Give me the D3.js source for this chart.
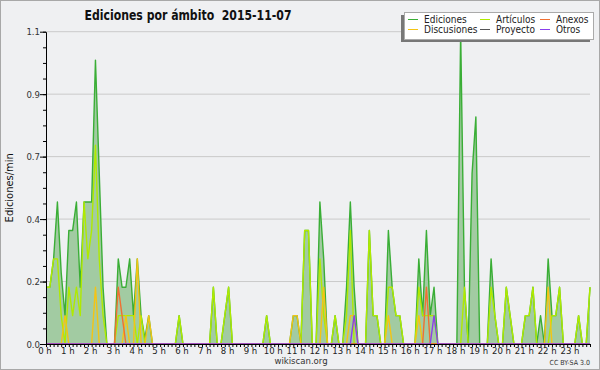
<!DOCTYPE html>
<html>
<head>
<meta charset="utf-8">
<script src="https://cdn.jsdelivr.net/npm/d3@7"></script>
<style>
  body { margin: 0; background: #eff0f2; }
  svg { display: block; font-family: "DejaVu Sans Condensed", "DejaVu Sans", sans-serif; }
</style>
</head>
<body>
<div id="chart-area"></div>
<script>
// one value every 10 minutes, 6 per hour (rows = hours 0..23)
var ediciones = [
  0.2, 0.2, 0.3, 0.5, 0.25, 0.1,
  0.4, 0.4, 0.5, 0.2, 0.5, 0.5,
  0.5, 1.0, 0.6, 0.2, 0, 0,
  0, 0.3, 0.2, 0.2, 0.3, 0.1,
  0.3, 0.1, 0.02, 0.1, 0, 0,
  0, 0, 0, 0, 0, 0.1,
  0, 0, 0, 0, 0, 0,
  0, 0, 0.2, 0, 0, 0.1,
  0.2, 0, 0, 0, 0, 0,
  0, 0, 0, 0, 0.1, 0,
  0, 0, 0, 0, 0, 0.1,
  0.1, 0, 0.4, 0.4, 0, 0,
  0.5, 0.3, 0, 0, 0.1, 0,
  0, 0.2, 0.5, 0.2, 0, 0,
  0, 0.4, 0.1, 0.1, 0, 0,
  0.4, 0.2, 0.1, 0.1, 0, 0,
  0, 0, 0.3, 0.1, 0.4, 0.1,
  0.2, 0, 0, 0, 0, 0,
  0, 1.1, 0.2, 0, 0.6, 0.8,
  0, 0, 0, 0.3, 0.1, 0,
  0, 0.2, 0.1, 0, 0, 0,
  0.1, 0.1, 0.2, 0, 0.1, 0,
  0.3, 0.1, 0.1, 0.2, 0, 0,
  0, 0, 0.1, 0, 0, 0.2
];
var articulos = [
  0.2, 0.2, 0.3, 0.3, 0.1, 0,
  0.2, 0.1, 0.2, 0.1, 0.5, 0.3,
  0.4, 0.7, 0.3, 0.1, 0, 0,
  0, 0.1, 0.1, 0.1, 0.1, 0.1,
  0, 0.1, 0, 0, 0, 0,
  0, 0, 0, 0, 0, 0.1,
  0, 0, 0, 0, 0, 0,
  0, 0, 0.2, 0, 0, 0.1,
  0.2, 0, 0, 0, 0, 0,
  0, 0, 0, 0, 0.1, 0,
  0, 0, 0, 0, 0, 0,
  0, 0, 0.4, 0.4, 0, 0,
  0.3, 0.1, 0, 0, 0.1, 0,
  0, 0.1, 0.4, 0, 0, 0,
  0, 0.4, 0.1, 0.1, 0, 0,
  0.2, 0.2, 0.1, 0.1, 0, 0,
  0, 0, 0.2, 0.1, 0.1, 0.1,
  0.1, 0, 0, 0, 0, 0,
  0, 0, 0.2, 0, 0, 0,
  0, 0, 0, 0.2, 0.1, 0,
  0, 0.2, 0.1, 0, 0, 0,
  0.1, 0.1, 0.2, 0, 0, 0,
  0, 0.1, 0.1, 0.2, 0, 0,
  0, 0, 0.1, 0, 0, 0.2
];
// sparse series: [sample index, value]
var discusiones = [[5, 0.1], [13, 0.2], [21, 0.1], [24, 0.3], [27, 0.1], [65, 0.1], [66, 0.1],
  [73, 0.2], [80, 0.1], [81, 0.1], [90, 0.1], [98, 0.1], [132, 0.2]];
var anexos = [[19, 0.2], [20, 0.1], [100, 0.2]];
var proyecto = [];
var otros = [[81, 0.1], [102, 0.1]];

var legendNames = ["Ediciones", "Artículos", "Anexos", "Discusiones", "Proyecto", "Otros"];
var legendColors = ["#3aae36", "#b0ea00", "#f07032", "#f4c414", "#555555", "#8a40ec"];
var yTicks = [0, 0.22, 0.44, 0.66, 0.88, 1.1];
var hourTicks = d3.range(0, 24);

function expand(pairs) {
  var a = d3.range(144).map(function(){ return 0; });
  pairs.forEach(function(p){ a[p[0]] = p[1]; });
  return a;
}

var W = 600, H = 370;
var margin = { left: 46, right: 10, top: 31.7, bottom: 26 };

var svg = d3.select("#chart-area").append("svg")
    .attr("width", W)
    .attr("height", H);

svg.append("rect")
    .attr("x", 0.5).attr("y", 0.5)
    .attr("width", W - 1).attr("height", H - 1)
    .attr("fill", "#eff0f2")
    .attr("stroke", "#a8a8a8");

//scales (minutes since midnight)
var x = d3.scaleLinear().domain([0, 1430]).range([margin.left, W - margin.right]);
var y = d3.scaleLinear().domain([0, 1.1]).range([H - 26, margin.top]);

//grid
svg.append("g").selectAll("line")
    .data(yTicks.slice(1))
    .enter().append("line")
    .attr("x1", x(0)).attr("x2", x(1430))
    .attr("y1", function(d){ return y(d); })
    .attr("y2", function(d){ return y(d); })
    .attr("stroke", "#cacaca");

//series
var line = d3.line()
    .x(function(d, i){ return x(i * 10); })
    .y(function(d){ return y(d); });
var area = d3.area()
    .x(function(d, i){ return x(i * 10); })
    .y0(y(0))
    .y1(function(d){ return y(d); });

svg.append("path")
    .attr("d", area(ediciones))
    .attr("fill", "#a2cba2");

var allSeries = [ediciones, articulos, expand(anexos), expand(discusiones), expand(proyecto), expand(otros)];
var drawOrder = [0, 1, 4, 3, 2, 5];
drawOrder.forEach(function(k){
  svg.append("path")
      .attr("d", line(allSeries[k]))
      .attr("fill", "none")
      .attr("stroke", legendColors[k])
      .attr("stroke-width", 1.4)
      .attr("stroke-linejoin", "round");
});

//X axis: 10 minute ticks, hour labels
svg.append("g")
    .attr("transform", "translate(0," + y(0) + ")")
    .call(d3.axisBottom(x).tickValues(d3.range(0, 1431, 10)).tickSize(3).tickSizeOuter(0).tickFormat(""))
    .call(function(g){
      g.select(".domain").attr("stroke", "#000");
      g.selectAll(".tick line").attr("stroke", "#000");
    });
svg.append("g")
    .attr("transform", "translate(-1.5," + y(0) + ")")
    .call(d3.axisBottom(x).tickValues(hourTicks.map(function(h){ return h * 60; }))
        .tickSize(0).tickPadding(3)
        .tickFormat(function(d){ return (d / 60) + " h"; }))
    .call(function(g){
      g.select(".domain").remove();
      g.selectAll("text").attr("font-size", 9.5).attr("fill", "#222")
          .attr("font-family", "DejaVu Sans Condensed");
    });

//Y axis: minor ticks every quarter of a major step
svg.append("g")
    .attr("transform", "translate(" + x(0) + ",0)")
    .call(d3.axisLeft(y).tickValues(d3.range(0, 21).map(function(k){ return k * 0.055; }))
        .tickSize(3).tickSizeOuter(0).tickFormat(""))
    .call(function(g){
      g.select(".domain").attr("stroke", "#000");
      g.selectAll(".tick line").attr("stroke", "#000");
    });
svg.append("g")
    .attr("transform", "translate(" + x(0) + ",0)")
    .call(d3.axisLeft(y).tickValues(yTicks).tickSize(6).tickPadding(0)
        .tickFormat(d3.format(".1f")))
    .call(function(g){
      g.select(".domain").remove();
      g.selectAll(".tick line").attr("stroke", "#000");
      g.selectAll("text").attr("font-size", 9.5).attr("fill", "#333")
          .attr("font-family", "DejaVu Sans Condensed");
    });

//Title
svg.append("text")
    .attr("x", 188).attr("y", 20)
    .attr("text-anchor", "middle")
    .attr("font-size", 14)
    .attr("font-weight", "bold")
    .attr("fill", "#111")
    .attr("textLength", 207)
    .attr("lengthAdjust", "spacingAndGlyphs")
    .attr("xml:space", "preserve")
    .text("Ediciones por ámbito  2015-11-07");

//Y label
svg.append("text")
    .attr("transform", "rotate(-90)")
    .attr("x", -(y(0) + y(1.1)) / 2)
    .attr("y", 13)
    .attr("text-anchor", "middle")
    .attr("font-size", 11)
    .attr("fill", "#111")
    .text("Ediciones/min");

//Legend
var lg = svg.append("g");
lg.append("rect").attr("x", 401).attr("y", 15).attr("width", 189).attr("height", 27).attr("fill", "#777");
lg.append("rect").attr("x", 404.5).attr("y", 12.5).attr("width", 189).attr("height", 27)
    .attr("fill", "#fff").attr("stroke", "#aaa");
var colLine = [408, 480, 540], colText = [424, 496, 556], rowY = [19.5, 29.5];
legendNames.forEach(function(name, i){
  var c = i % 3, r = Math.floor(i / 3);
  lg.append("line")
      .attr("x1", colLine[c]).attr("x2", colLine[c] + 10)
      .attr("y1", rowY[r]).attr("y2", rowY[r])
      .attr("stroke", legendColors[i]).attr("stroke-width", 1);
  lg.append("text")
      .attr("x", colText[c]).attr("y", rowY[r] + 3.5)
      .attr("font-size", 10)
      .attr("fill", "#222")
      .text(name);
});

//Footer
svg.append("text")
    .attr("x", 301).attr("y", 364)
    .attr("text-anchor", "middle")
    .attr("font-size", 9.5)
    .attr("fill", "#333")
    .text("wikiscan.org");
svg.append("text")
    .attr("x", 590).attr("y", 365)
    .attr("text-anchor", "end")
    .attr("font-size", 7)
    .attr("fill", "#333")
    .text("CC BY-SA 3.0");
</script>
</body>
</html>
